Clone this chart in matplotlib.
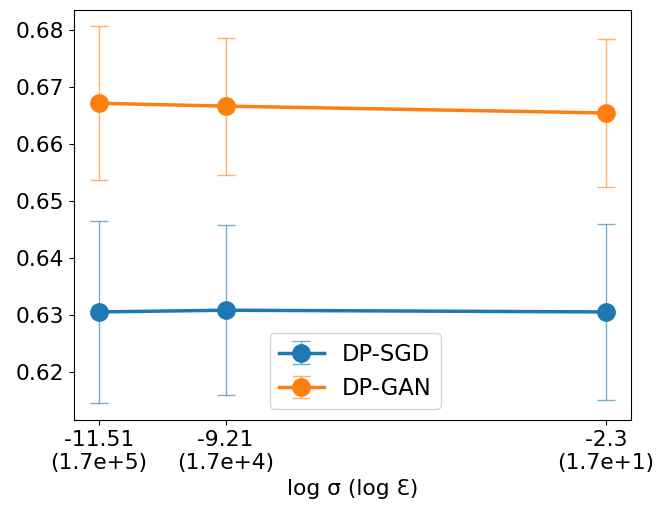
import matplotlib.pyplot as plt
import numpy as np

# data
log_sigma = [-11.51, -9.21, -2.3]
tick_labels = ['-11.51\n(1.7e+5)', '-9.21\n(1.7e+4)', '-2.3\n(1.7e+1)']
sgd_mean = [0.6305, 0.6308, 0.6305]
sgd_err = [0.0160, 0.0149, 0.0155]
gan_mean = [0.6671, 0.6666, 0.6654]
gan_err = [0.0135, 0.0120, 0.0130]

fs = 15.7
fig = plt.figure(figsize=(6.7, 5.15), dpi=100)
ax = fig.add_axes([0.11, 0.184, 0.832, 0.797])

for m, e, c, lab in [(sgd_mean, sgd_err, 'tab:blue', 'DP-SGD'),
                     (gan_mean, gan_err, 'tab:orange', 'DP-GAN')]:
    ax.errorbar(log_sigma, m, yerr=e, color=c, marker='o', markersize=12.5,
                linewidth=2.5, elinewidth=1, capsize=6.5, ecolor=c,
                label=lab)
    for line in ax.containers[-1].lines[1] + ax.containers[-1].lines[2]:
        line.set_alpha(0.6)

ax.set_xticks(log_sigma)
ax.set_xticklabels(tick_labels)
ax.set_xlabel('log σ (log Ɛ)', fontsize=fs)
ax.tick_params(labelsize=fs)
ax.set_ylim(0.6115, 0.6835)
ax.legend(loc='lower center', fontsize=16.3, bbox_to_anchor=(0.505, 0.0))

plt.savefig('out.png')
